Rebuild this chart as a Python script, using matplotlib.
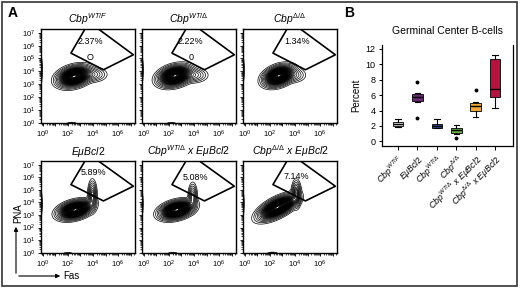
import numpy as np
import matplotlib
matplotlib.use('Agg')
import matplotlib.pyplot as plt
from matplotlib.patches import Rectangle, FancyArrowPatch
from matplotlib.ticker import FixedLocator, LogLocator, FuncFormatter, NullFormatter

plt.rcParams['font.family'] = ['Liberation Sans', 'DejaVu Sans']
plt.rcParams['mathtext.fontset'] = 'custom'
plt.rcParams['mathtext.rm'] = 'Liberation Sans'
plt.rcParams['mathtext.it'] = 'Liberation Sans:italic'
plt.rcParams['mathtext.bf'] = 'Liberation Sans:bold'

# ---- panel A: flow plots (values in log10 units) ----
TITLES = [r'$Cbp^{WT/F}$', r'$Cbp^{WT/\Delta}$', r'$Cbp^{\Delta/\Delta}$',
          r'$E\mu Bcl2$', r'$Cbp^{WT/\Delta}\ x\ E\mu Bcl2$', r'$Cbp^{\Delta/\Delta}\ x\ E\mu Bcl2$']
GATE_PCT = ['2.37%', '2.22%', '1.34%', '5.89%', '5.08%', '7.14%']
PCT_FAS = [3.75, 3.7, 4.2, 4.0, 4.1, 4.1]
PCT_PNA = [6.3, 6.3, 6.3, 6.35, 6.0, 6.1]
EXTRA_TXT = ['O', '0', '', '', '', '']

GATE_FAS = [3.36, 2.24, 4.83, 7.22, 4.43, 3.36]
GATE_PNA = [7.3, 5.42, 4.12, 5.29, 7.3, 7.3]

# main B-cell population
MAIN_FAS = [2.5, 2.48, 2.7, 2.55, 2.6, 2.6]
MAIN_PNA = [3.6, 3.65, 3.65, 3.4, 3.4, 3.6]
MAIN_SD_FAS = [0.55, 0.55, 0.5, 0.55, 0.55, 0.62]
MAIN_SD_PNA = [0.33, 0.33, 0.33, 0.3, 0.3, 0.4]
MAIN_RHO = [0.3, 0.3, 0.35, 0.35, 0.35, 0.65]
# germinal-centre tail / streak
GC_FAS = [3.9, 3.9, 3.8, 3.95, 3.9, 4.1]
GC_PNA = [3.75, 3.7, 3.7, 4.55, 4.45, 4.65]
GC_SD_FAS = [0.5, 0.5, 0.45, 0.15, 0.15, 0.16]
GC_SD_PNA = [0.25, 0.25, 0.25, 0.5, 0.45, 0.45]
GC_W = [0.08, 0.08, 0.06, 0.15, 0.12, 0.18]
# bridge between main cloud and streak
BR_FAS = [3.3, 3.3, 3.3, 3.4, 3.35, 3.5]
BR_PNA = [3.6, 3.6, 3.6, 3.7, 3.65, 4.0]
BR_W = [0.0, 0.0, 0.0, 0.12, 0.1, 0.15]
# events piled on the axes
EDGE_PNA = [4.1, 4.1, 4.1, 3.9, 3.9, 3.9]
EDGE_W = [0.05, 0.04, 0.04, 0.04, 0.03, 0.03]
FLOOR_FAS = [2.3, 2.2, 2.3, 2.0, 2.3, 2.2]
FLOOR_W = [0.02, 0.015, 0.0, 0.015, 0.02, 0.03]

LEVELS = np.concatenate([[0.004, 0.01, 0.02, 0.035, 0.055], np.linspace(0.08, 0.975, 40)])

# ---- panel B: box plot ----
GROUPS = [r'$Cbp^{WT/F}$', r'$E\mu Bcl2$', r'$Cbp^{WT/\Delta}$', r'$Cbp^{\Delta/\Delta}$',
          r'$Cbp^{WT/\Delta}\ x\ E\mu Bcl2$', r'$Cbp^{\Delta/\Delta}\ x\ E\mu Bcl2$']
WHIS_LO = [1.8, 5.05, 1.7, 0.99, 3.15, 4.27]
Q1 = [1.94, 5.27, 1.75, 1.1, 3.95, 5.7]
MED = [2.24, 5.75, 2.03, 1.42, 4.55, 6.78]
Q3 = [2.46, 6.1, 2.24, 1.72, 5.0, 10.7]
WHIS_HI = [2.9, 6.3, 2.9, 2.07, 5.1, 11.15]
FLIERS = [[], [7.64, 2.98], [], [0.43], [6.7], []]
BOX_COLORS = ['#dedede', '#6d2b77', '#2d4b8e', '#6bb04a', '#f0a93a', '#b3143d']

W, H = 520, 289
fig = plt.figure(figsize=(W / 100, H / 100), dpi=100)


def px_axes(x0, y0, x1, y1):
    return fig.add_axes([x0 / W, 1 - y1 / H, (x1 - x0) / W, (y1 - y0) / H])


def blob(F, P, cx, cy, sx, sy, rho=0.0):
    dx = (F - cx) / sx
    dy = (P - cy) / sy
    return np.exp(-0.5 * (dx**2 - 2 * rho * dx * dy + dy**2) / (1 - rho**2))


def density(i, F, P):
    z = blob(F, P, MAIN_FAS[i], MAIN_PNA[i], MAIN_SD_FAS[i], MAIN_SD_PNA[i], MAIN_RHO[i])
    z += GC_W[i] * blob(F, P, GC_FAS[i], GC_PNA[i], GC_SD_FAS[i], GC_SD_PNA[i])
    z += BR_W[i] * blob(F, P, BR_FAS[i], BR_PNA[i], 0.35, 0.22, 0.5)
    z += EDGE_W[i] * blob(F, P, -0.17, EDGE_PNA[i], 0.06, 0.5)
    z += FLOOR_W[i] * blob(F, P, FLOOR_FAS[i], -0.06, 0.2, 0.05)
    return z


fas = np.linspace(-0.4, 7.6, 600)
pna = np.linspace(-0.4, 7.6, 600)
F, P = np.meshgrid(fas, pna)

cols = [41, 142, 243]
rows = [(29, 123), (161, 253)]


def dec_label(v, pos, even_only):
    n = int(round(np.log10(v)))
    if even_only and n % 2:
        return ''
    return r'$10^{%d}$' % n


for i in range(6):
    r, c = divmod(i, 3)
    ax = px_axes(cols[c], rows[r][0], cols[c] + 94, rows[r][1])
    Z = density(i, F, P)
    ax.contour(10**F, 10**P, Z, levels=LEVELS, colors='k', linewidths=0.5)
    ax.plot(10.0**np.array(GATE_FAS), 10.0**np.array(GATE_PNA), color='k', lw=1.2)
    ax.text(10**PCT_FAS[i], 10**PCT_PNA[i], GATE_PCT[i], fontsize=6.5,
            ha='center', va='center')
    if EXTRA_TXT[i]:
        ax.text(10**3.8, 10**5.08, EXTRA_TXT[i], fontsize=6.5, ha='center', va='center')
    ax.set_xscale('log')
    ax.set_yscale('log')
    ax.set_xlim(10**-0.15, 10**7.35)
    ax.set_ylim(10**-0.03, 10**7.3)
    dec = 10.0**np.arange(0, 8)
    ax.xaxis.set_major_locator(FixedLocator(dec))
    ax.yaxis.set_major_locator(FixedLocator(dec))
    ax.xaxis.set_minor_locator(LogLocator(base=10, subs=np.arange(2, 10), numticks=30))
    ax.yaxis.set_minor_locator(LogLocator(base=10, subs=np.arange(2, 10), numticks=30))
    ax.xaxis.set_minor_formatter(NullFormatter())
    ax.yaxis.set_minor_formatter(NullFormatter())
    ax.xaxis.set_major_formatter(FuncFormatter(lambda v, p: dec_label(v, p, True)))
    if c == 0:
        ax.yaxis.set_major_formatter(FuncFormatter(lambda v, p: dec_label(v, p, False)))
    else:
        ax.yaxis.set_major_formatter(NullFormatter())
    ax.tick_params(which='major', length=2.5, width=0.6, labelsize=5.5, pad=1.5)
    ax.tick_params(which='minor', length=1.3, width=0.5)
    for s in ax.spines.values():
        s.set_linewidth(1.0)
    ax.set_title(TITLES[i], fontsize=7.5, pad=4)

# ---- box plot ----
bx = px_axes(382, 45, 513, 146)
stats = []
for k in range(6):
    stats.append(dict(med=MED[k], q1=Q1[k], q3=Q3[k], whislo=WHIS_LO[k],
                      whishi=WHIS_HI[k], fliers=FLIERS[k]))
pos = np.arange(1, 7)
bp = bx.bxp(stats, positions=pos, widths=0.55, capwidths=0.28, patch_artist=True,
            boxprops=dict(linewidth=0.6, edgecolor='k'),
            medianprops=dict(color='k', linewidth=1.0),
            whiskerprops=dict(color='k', linewidth=0.8),
            capprops=dict(color='k', linewidth=0.8),
            flierprops=dict(marker='o', markersize=1.8, markerfacecolor='k',
                            markeredgecolor='k'))
for patch, col in zip(bp['boxes'], BOX_COLORS):
    patch.set_facecolor(col)
bx.set_xlim(0.17, 6.93)
bx.set_ylim(-0.6, 12.5)
bx.set_yticks(np.arange(0, 13, 2))
bx.set_xticks(pos)
bx.set_xticklabels(GROUPS, rotation=45, ha='right', rotation_mode='anchor', fontsize=6.3)
bx.spines['top'].set_visible(False)
for s in ['left', 'bottom', 'right']:
    bx.spines[s].set_linewidth(0.9)
bx.tick_params(axis='y', length=2.5, width=0.7, labelsize=6.5, pad=2)
bx.tick_params(axis='x', length=3, width=0.7, pad=2)
bx.set_ylabel('Percent', fontsize=7, labelpad=3)
bx.set_title('Germinal Center B-cells', fontsize=7.5, pad=8)

# ---- labels, arrows, frame ----
fig.text(8 / W, 1 - 13 / H, 'A', fontsize=10, fontweight='bold', va='center')
fig.text(344 / W, 1 - 13 / H, 'B', fontsize=10, fontweight='bold', va='center')
fig.text(18.5 / W, 1 - 213 / H, 'PNA', fontsize=7, rotation=90, ha='center', va='center')
fig.text(63 / W, 1 - 276 / H, 'Fas', fontsize=7, ha='left', va='center')
for x1, y1 in [(16, 224), (63, 276)]:
    fig.add_artist(FancyArrowPatch((16 / W, 1 - 276 / H), (x1 / W, 1 - y1 / H),
                                   transform=fig.transFigure, arrowstyle='-|>',
                                   mutation_scale=6, lw=0.8, color='k'))
fig.add_artist(Rectangle((1.5 / W, 1 - 286 / H), 515.5 / W, 284.5 / H, fill=False,
                         edgecolor='#333333', lw=1.2, transform=fig.transFigure))

fig.savefig('out.png', dpi=100)
